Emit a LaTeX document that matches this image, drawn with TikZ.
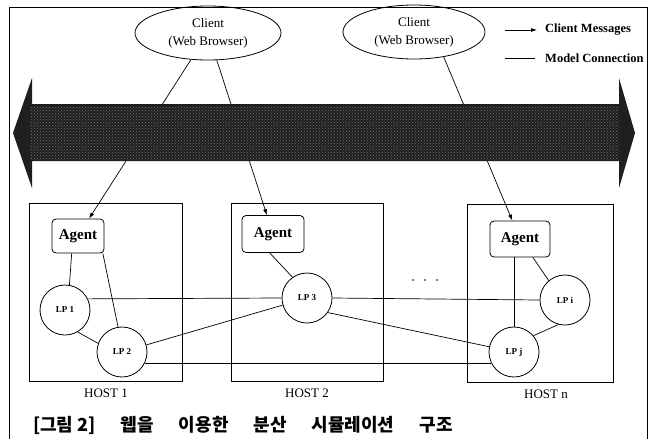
\documentclass[tikz,border=0pt]{standalone}
\usepackage{fontspec}
\setmainfont{Liberation Serif}
\newfontfamily\krfont{Noto Sans CJK KR}
\usepackage{tikz}
\usetikzlibrary{
  positioning,
  shapes.geometric,
  patterns,
  arrows.meta
}

\newcommand{\wgap}{\hspace{25pt}}

\tikzset{
  client/.style={draw,ellipse,line width=0.8pt,minimum width=146pt,minimum height=54pt,
    inner sep=0pt,align=center,font=\fontsize{13}{18}\selectfont},
  agentbox/.style={draw,line width=0.8pt,rounded corners=4pt,minimum width=58pt,
    minimum height=36pt,font=\fontsize{15}{15}\selectfont\bfseries},
  lpnode/.style={draw,circle,line width=0.8pt,minimum size=50pt,inner sep=0pt,
    font=\fontsize{9}{9}\selectfont\bfseries},
  hostbox/.style={draw,line width=0.8pt},
  hostlabel/.style={font=\fontsize{13}{13}\selectfont},
  legendtext/.style={anchor=west,inner sep=0pt,font=\fontsize{12.5}{12.5}\selectfont\bfseries},
  msg/.style={->,line width=0.7pt},
  conn/.style={line width=0.7pt}
}

\begin{document}
\begin{tikzpicture}[x=1pt,y=-1pt,>={Latex[length=6pt,width=4pt]}]
        \useasboundingbox (0,0) rectangle (652,439);
        \draw[line width=1pt] (9,439) -- (9,7) -- (647,7) -- (647,439);

        % clients
        \node[client] (c1) at (208,33) {Client\\(Web Browser)};
        \node[client,minimum width=142pt] (c2) at (414,32) {Client\\(Web Browser)};

        % legend
        \coordinate (lm1) at (505,30);
        \coordinate (lm2) at (537,30);
        \coordinate (lc1) at (505,58);
        \coordinate (lc2) at (535,58);
        \draw[msg] (lm1) -- (lm2);
        \draw[conn] (lc1) -- (lc2);
        \node[legendtext] at (545,30) {Client Messages};
        \node[legendtext] at (545,58) {Model Connection};

        % hosts
        \draw[hostbox] (29,203) rectangle (182,381);
        \draw[hostbox] (231,203) rectangle (383,381);
        \draw[hostbox] (467,204) rectangle (613,382);
        \node[hostlabel] at (106,393) {HOST 1};
        \node[hostlabel] at (307,393) {HOST 2};
        \node[hostlabel] at (546,394) {HOST n};

        % agents and logical processes
        \node[agentbox,minimum width=52pt,minimum height=34pt] (ag1) at (78,236) {Agent};
        \node[agentbox,minimum width=62pt,minimum height=37pt] (ag2) at (273,234) {Agent};
        \node[agentbox,minimum width=60pt] (agn) at (520,239) {Agent};
        \node[lpnode] (lp1) at (65,310) {LP 1};
        \node[lpnode] (lp2) at (122,352) {LP 2};
        \node[lpnode] (lp3) at (307,298) {LP 3};
        \node[lpnode] (lpi) at (565,300) {LP i};
        \node[lpnode] (lpj) at (514,352) {LP j};
        \foreach \x in {413,425,437}
            \fill (\x,280) circle (0.8pt);

        % model connections
        \draw[conn] (ag1.-110) -- (lp1.80);
        \draw[conn] (ag1.-35) -- (lp2.99);
        \draw[conn] (lp1.-60) -- (lp2.160);
        \draw[conn] (lp1.26) -- (lp3.west);
        \draw[conn] (lp3.east) -- (lpi.west);
        \draw[conn] (lp2) -- (lp3);
        \draw[conn] (lp3.-35) -- (lpj);
        \draw[conn] (lp2.-26) -- (lpj.206);
        \draw[conn] (ag2.-100) -- (lp3.125);
        \draw[conn] (agn.south -| lpj) -- (lpj.north);
        \draw[conn] (agn.-55) -- (lpi.130);
        \draw[conn] (lpi.-105) -- (lpj.40);

        % client messages
        \draw[msg] (c1) -- (ag1);
        \draw[msg] (c1) -- (ag2);
        \draw[msg] (c2.-40) -- (agn);

        % network arrow
        \fill[black!88] (13,133) -- (32,78) -- (32,104) -- (619,104) -- (619,78) -- (635,133)
            -- (619,188) -- (619,161) -- (32,161) -- (32,188) -- cycle;
        \fill[pattern=crosshatch dots,pattern color=black!55] (30,106) rectangle (619,159);

        % caption
        \node[anchor=west,inner sep=0pt,font=\krfont\fontsize{18}{18}\selectfont\bfseries] (cap) at (33,425)
            {[그림 2]\wgap 웹을\wgap 이용한\wgap 분산\wgap 시뮬레이션\wgap 구조};
\end{tikzpicture}
\end{document}
